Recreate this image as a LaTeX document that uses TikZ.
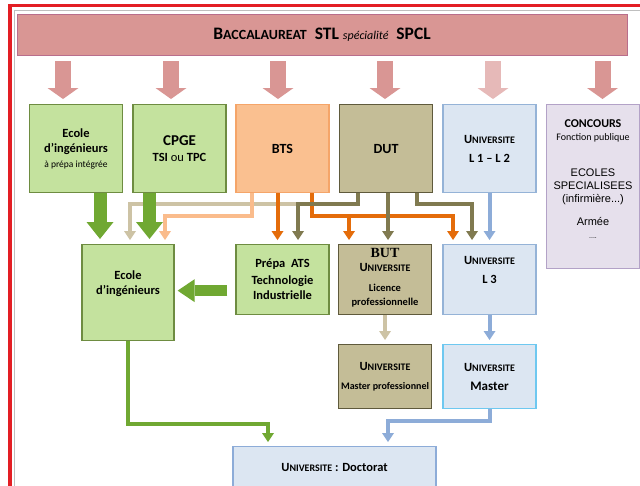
\documentclass[tikz,border=0pt]{standalone}
\usepackage{fontspec}
\setmainfont{Carlito}
\newfontfamily\arialfont{Liberation Sans}
\newfontfamily\butfont{Liberation Serif}
\usetikzlibrary{arrows.meta}
\definecolor{rouge}{RGB}{227,30,36}
\definecolor{rose}{RGB}{217,150,148}
\definecolor{rosec}{RGB}{230,185,184}
\definecolor{roseb}{RGB}{185,110,140}
\definecolor{vertf}{RGB}{196,226,158}
\definecolor{vertd}{RGB}{110,140,65}
\definecolor{flechev}{RGB}{112,168,50}
\definecolor{orngf}{RGB}{250,192,144}
\definecolor{orngd}{RGB}{245,165,105}
\definecolor{orngl}{RGB}{228,108,10}
\definecolor{orngc}{RGB}{250,188,140}
\definecolor{kakif}{RGB}{196,189,151}
\definecolor{kakid}{RGB}{95,90,60}
\definecolor{kakil}{RGB}{128,122,80}
\definecolor{kakic}{RGB}{205,195,165}
\definecolor{bleuf}{RGB}{220,230,242}
\definecolor{bleud}{RGB}{149,179,215}
\definecolor{bleul}{RGB}{141,172,216}
\definecolor{cyand}{RGB}{110,200,240}
\definecolor{mauvef}{RGB}{230,224,236}
\definecolor{mauved}{RGB}{179,162,199}
\newcommand\Univ{U\scalebox{0.8}{NIVERSITE}}
\newcommand\arl{\mdseries\arialfont\fontsize{11}{13}\selectfont}
\tikzset{
  box/.style={draw, line width=1.3pt, anchor=north, minimum width=93pt, minimum height=88pt,
    inner sep=2pt, align=center, font=\bfseries\fontsize{12.5}{15}\selectfont},
  boxvert/.style={box, fill=vertf, draw=vertd},
  boxorng/.style={box, fill=orngf, draw=orngd},
  boxkaki/.style={box, fill=kakif, draw=kakid},
  boxbleu/.style={box, fill=bleuf, draw=bleud},
  boxmauve/.style={box, fill=mauvef, draw=mauved},
  lk/.style={line width=4pt, -{Triangle[width=12pt,length=9pt,line width=0pt]}},
  gros/.style={draw=flechev, line width=13pt, -{Triangle[width=27pt,length=17pt,line width=0pt]}},
  grosh/.style={draw=flechev, line width=11pt, -{Triangle[width=23pt,length=17pt,line width=0pt]}},
  rosef/.style={line width=16pt, -{Triangle[width=31pt,length=11pt,line width=0pt]}},
}

\begin{document}
\begin{tikzpicture}[x=1pt,y=-1pt]
    \useasboundingbox (0,0) rectangle (640,485);
    \clip (0,0) rectangle (640,485);
    % cadre
    \draw[rouge, line width=3.5pt] (10,500) |- (660,5.5);
    \draw[gray!50, line width=0.5pt] (14.5,500) |- (660,10.5);

    \node[draw=roseb, fill=rose, line width=1pt, minimum width=610pt, minimum height=41pt, anchor=north] (bac) at (322,14)
      {\bfseries\fontsize{17.5}{19}\selectfont B\scalebox{0.8}{ACCALAUREAT}\ \ STL {\mdseries\itshape\fontsize{12}{13}\selectfont sp\'ecialit\'e}\ \ SPCL};

    % ligne 1
    \node[boxvert] (ecp) at (76,104) {Ecole\\d’ingénieurs\\\mdseries\fontsize{9.5}{11}\selectfont à prépa intégrée};
    \node[boxvert] (cpge) at (179.5,104) {\fontsize{15}{17}\selectfont CPGE\\[1pt] TSI {\mdseries ou} TPC};
    \node[boxorng] (bts) at (282.5,104) {\fontsize{14}{16}\selectfont BTS};
    \node[boxkaki] (dut) at (386,104) {\fontsize{14}{16}\selectfont DUT};
    \node[boxbleu] (lic) at (489.5,104) {\Univ\\[4pt] L 1 -- L 2};
    \node[boxmauve, minimum height=164pt] (conc) at (593,104) {};
    \node[anchor=north, align=center, font=\bfseries\fontsize{12}{13}\selectfont] (conctxt) at ([yshift=-12pt]conc.north)
      {CONCOURS\\ \mdseries\fontsize{10}{12}\selectfont Fonction publique\\[23pt] \arl ECOLES\\ \arl SPECIALISEES\\ \arl (infirmière...)\\[10pt] \arl Armée\\ \arl\fontsize{7}{8}\selectfont ....};

    % ligne 2
    \node[boxvert, minimum width=92pt, minimum height=96pt] (ecole) at (128,244) {Ecole\\d’ingénieurs\\[6pt]};
    \node[boxvert, minimum height=70pt] (ats) at (282.5,244) {Prépa\ \ ATS\\[2pt] Technologie\\Industrielle};
    \node[boxkaki, minimum height=70pt] (but) at (385,244) {};
    \node[anchor=north, align=center, font=\bfseries\fontsize{12.5}{14}\selectfont] (buttxt) at ([yshift=-1pt]but.north)
      {\butfont\fontsize{14}{14}\selectfont BUT\\ \Univ\\[6pt] \fontsize{10.5}{12.5}\selectfont Licence\\ \fontsize{10.5}{12.5}\selectfont professionnelle};
    \node[boxbleu, minimum height=70pt] (lthree) at (489.5,244) {\Univ\\[4pt] L 3\\[4pt]};

    % ligne 3
    \node[boxkaki, minimum height=64pt] (mpro) at (385,344) {\Univ\\[4pt] \fontsize{10}{12}\selectfont Master professionnel};
    \node[boxbleu, draw=cyand, minimum height=64pt] (master) at (489.5,344) {\Univ\\[4pt] \fontsize{13}{15}\selectfont Master};
    \node[boxbleu, draw=bleul, minimum width=203pt, minimum height=42pt] (doct) at (334.5,446) {\Univ\ : Doctorat};

    % fleches du bac
    \draw[rosef, draw=rose] ([xshift=-13pt,yshift=-5pt]bac.south -| ecp.north) -- ([xshift=-13pt,yshift=5pt]ecp.north);
    \draw[rosef, draw=rose] ([xshift=-8.5pt,yshift=-5pt]bac.south -| cpge.north) -- ([xshift=-8.5pt,yshift=5pt]cpge.north);
    \draw[rosef, draw=rose] ([xshift=-4.5pt,yshift=-5pt]bac.south -| bts.north) -- ([xshift=-4.5pt,yshift=5pt]bts.north);
    \draw[rosef, draw=rose] ([xshift=-1pt,yshift=-5pt]bac.south -| dut.north) -- ([xshift=-1pt,yshift=5pt]dut.north);
    \draw[rosef, draw=rosec] ([xshift=3.5pt,yshift=-5pt]bac.south -| lic.north) -- ([xshift=3.5pt,yshift=5pt]lic.north);
    \draw[rosef, draw=rose] ([xshift=9.5pt,yshift=-5pt]bac.south -| conc.north) -- ([xshift=9.5pt,yshift=5pt]conc.north);

    % liaisons
    \draw[lk, draw=kakic] ([xshift=-28pt]dut.south) -- ++(0,11) -| ([xshift=2pt,yshift=4pt]ecole.north);
    \draw[lk, draw=orngc] ([xshift=-30.5pt]bts.south) -- ++(0,23) -| ([xshift=37pt,yshift=4pt]ecole.north);
    \draw[lk, draw=orngl] ([xshift=-5pt]bts.south) -- ([xshift=-5pt,yshift=4pt]ats.north);
    \draw[lk, draw=orngl] ([xshift=29.5pt]bts.south) -- ++(0,23) -| ([xshift=-36.5pt,yshift=4pt]lthree.north);
    \draw[lk, draw=orngl] ([xshift=29.5pt]bts.south) ++(0,23) -| ([xshift=-36pt,yshift=4pt]but.north);
    \draw[lk, draw=kakil] ([xshift=-28pt]dut.south) -- ++(0,11) -| ([xshift=15.5pt,yshift=4pt]ats.north);
    \draw[lk, draw=kakil] ([xshift=2pt]dut.south) -- ([xshift=3pt,yshift=4pt]but.north);
    \draw[lk, draw=kakil] ([xshift=31pt]dut.south) -- ++(0,11) -| ([xshift=-17.5pt,yshift=4pt]lthree.north);
    \draw[lk, draw=bleul] (lic.south) -- ([yshift=4pt]lthree.north);

    \draw[gros] ([xshift=24pt]ecp.south) -- ([xshift=24pt,yshift=5pt]ecp.south |- ecole.north);
    \draw[gros] ([xshift=-30pt]cpge.south) -- ([xshift=-30pt,yshift=5pt]cpge.south |- ecole.north);
    \draw[grosh] ([xshift=-8pt,yshift=-11pt]ats.west) -- ([xshift=3pt,yshift=-11pt]ecole.east |- ats.west);

    \draw[lk, draw=kakic] (but.south) -- ([yshift=4pt]mpro.north);
    \draw[lk, draw=bleul] (lthree.south) -- ([yshift=4pt]master.north);
    \draw[lk, draw=flechev] (ecole.south) -- ++(0,83) -| ([xshift=-66.5pt,yshift=4pt]doct.north);
    \draw[lk, draw=bleul] (master.south) -- ++(0,12) -| ([xshift=53.5pt,yshift=4pt]doct.north);
\end{tikzpicture}
\end{document}
